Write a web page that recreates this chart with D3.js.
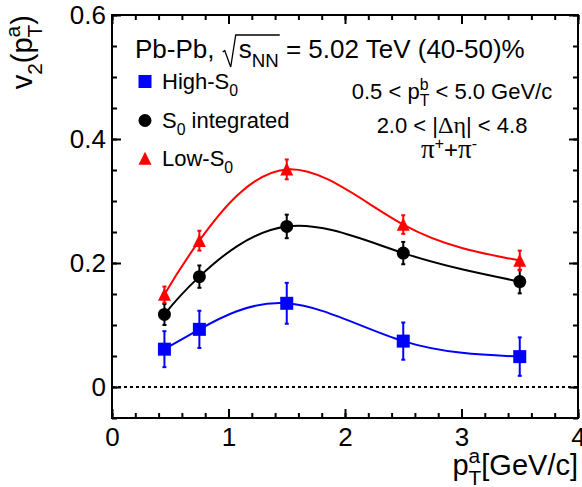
<!DOCTYPE html>
<html>
<head>
<meta charset="utf-8">
<script src="https://cdn.jsdelivr.net/npm/d3@7"></script>
<style>
	body { margin: 0; background: #fff; }
	text { font-family: "Liberation Sans", Arial, sans-serif; white-space: pre; }
	.serif { font-family: "Liberation Serif", "Times New Roman", serif; }
</style>
</head>
<body>
<svg id="chart" width="582" height="487"></svg>
<script>

// values
var pt = [0.45, 0.75, 1.5, 2.5, 3.5];
var highS0 = [0.061, 0.093, 0.135, 0.074, 0.049];
var highS0Err = [0.029, 0.030, 0.033, 0.030, 0.031];
var intS0 = [0.117, 0.178, 0.259, 0.216, 0.170];
var intS0Err = [0.017, 0.018, 0.019, 0.018, 0.019];
var lowS0 = [0.149, 0.236, 0.351, 0.262, 0.204];
var lowS0Err = [0.013, 0.016, 0.016, 0.015, 0.016];

var xTicks = [0, 1, 2, 3, 4];
var yTicks = [0, 0.2, 0.4, 0.6];

var series = [
	{name: "High", vals: highS0, errs: highS0Err, color: "#0000ff", marker: "square"},
	{name: "Int", vals: intS0, errs: intS0Err, color: "#000000", marker: "circle"},
	{name: "Low", vals: lowS0, errs: lowS0Err, color: "#ff0000", marker: "triangle"}
];

var fLeft = 112, fRight = 578, fTop = 15, fBottom = 418;

var svg = d3.select("#chart");

var x = d3.scaleLinear().domain([0, 4]).range([fLeft, fRight]);
var y = d3.scaleLinear().domain([-0.05, 0.6]).range([fBottom, fTop]);

// rich text: parts laid out one after the other, sub/sup as smaller text
function rich(parent, parts, opt) {
	var size = opt.size, g = parent.append("g");
	var cx = 0, xs = [];
	function piece(t, kind, at, cls, fsz) {
		var base = fsz || size;
		var fs = kind ? size * 0.72 : base;
		var dy = kind == "sub" ? size * 0.34 : (kind == "sup" ? -size * 0.42 : 0);
		var el = g.append("text")
			.attr("x", at)
			.attr("y", dy)
			.attr("font-size", fs)
			.attr("class", cls || null)
			.text(t);
		return el.node().getComputedTextLength();
	}
	parts.forEach(function (p) {
		xs.push(cx);
		if (p.gap) {
			cx += p.gap;
		}
		else if (p.stack) {
			var w1 = piece(p.sup, "sup", cx);
			var w2 = piece(p.sub, "sub", cx);
			cx += Math.max(w1, w2);
		}
		else {
			cx += piece(p.t, p.kind, cx, p.cls, p.size);
		}
	});
	var x0 = opt.x;
	if (opt.anchor == "middle") x0 = opt.x - cx / 2;
	if (opt.anchor == "end") x0 = opt.x - cx;
	g.attr("transform", "translate(" + x0 + "," + opt.y + ")");
	return {g: g, xs: xs, width: cx, x0: x0};
}

// zero line
svg.append("line")
	.attr("x1", fLeft).attr("x2", fRight)
	.attr("y1", y(0)).attr("y2", y(0))
	.attr("stroke", "#000")
	.attr("stroke-width", 2)
	.attr("stroke-dasharray", "3,3");

// axes, ticks inward on all four sides
var xMinor = d3.range(0, 4.001, 0.2);
var yMinor = d3.range(-0.05, 0.601, 0.05);

function addAxis(axis, tr) {
	var g = svg.append("g").attr("transform", tr).call(axis);
	g.select(".domain").remove();
	g.selectAll("line").attr("stroke-width", 2);
	g.selectAll("text").attr("font-size", 26).attr("fill", "#000");
	return g;
}

addAxis(d3.axisBottom(x).tickValues(xMinor).tickSize(-5).tickFormat(""), "translate(0," + fBottom + ")");
addAxis(d3.axisBottom(x).tickValues(xTicks).tickSize(-9).tickPadding(10).tickFormat(d3.format("d")), "translate(0," + fBottom + ")");
addAxis(d3.axisTop(x).tickValues(xMinor).tickSize(-5).tickFormat(""), "translate(0," + fTop + ")");
addAxis(d3.axisTop(x).tickValues(xTicks).tickSize(-9).tickFormat(""), "translate(0," + fTop + ")");

addAxis(d3.axisLeft(y).tickValues(yMinor).tickSize(-5).tickFormat(""), "translate(" + fLeft + ",0)");
addAxis(d3.axisLeft(y).tickValues(yTicks).tickSize(-9).tickPadding(6)
	.tickFormat(function (d) { return d == 0 ? "0" : d3.format(".1f")(d); }), "translate(" + fLeft + ",0)");
addAxis(d3.axisRight(y).tickValues(yMinor).tickSize(-5).tickFormat(""), "translate(" + fRight + ",0)");
addAxis(d3.axisRight(y).tickValues(yTicks).tickSize(-9).tickFormat(""), "translate(" + fRight + ",0)");

svg.append("rect")
	.attr("x", fLeft).attr("y", fTop)
	.attr("width", fRight - fLeft).attr("height", fBottom - fTop)
	.attr("fill", "none")
	.attr("stroke", "#000")
	.attr("stroke-width", 2);

// curves
var line = d3.line()
	.x(function (d) { return x(d[0]); })
	.y(function (d) { return y(d[1]); })
	.curve(d3.curveNatural);

function markerPath(kind, cx, cy) {
	var p = d3.path();
	if (kind == "square") {
		p.rect(cx - 6.5, cy - 6.5, 13, 13);
	}
	else if (kind == "circle") {
		p.arc(cx, cy, 6.5, 0, 2 * Math.PI);
	}
	else {
		p.moveTo(cx, cy - 6.8);
		p.lineTo(cx + 6.5, cy + 6.2);
		p.lineTo(cx - 6.5, cy + 6.2);
		p.closePath();
	}
	return p.toString();
}

series.forEach(function (s) {
	var pts = pt.map(function (v, i) { return [v, s.vals[i], s.errs[i]]; });
	var g = svg.append("g").attr("class", "series");

	g.append("path")
		.attr("d", line(pts))
		.attr("fill", "none")
		.attr("stroke", s.color)
		.attr("stroke-width", 2);

	var e = g.selectAll(".err").data(pts).enter().append("g").attr("class", "err");
	e.append("line")
		.attr("x1", function (d) { return x(d[0]); })
		.attr("x2", function (d) { return x(d[0]); })
		.attr("y1", function (d) { return y(d[1] - d[2]); })
		.attr("y2", function (d) { return y(d[1] + d[2]); })
		.attr("stroke", s.color)
		.attr("stroke-width", 2);
	[-1, 1].forEach(function (sg) {
		e.append("line")
			.attr("x1", function (d) { return x(d[0]) - 2; })
			.attr("x2", function (d) { return x(d[0]) + 2; })
			.attr("y1", function (d) { return y(d[1] + sg * d[2]); })
			.attr("y2", function (d) { return y(d[1] + sg * d[2]); })
			.attr("stroke", s.color)
			.attr("stroke-width", 2);
	});

	g.selectAll(".mk").data(pts).enter().append("path")
		.attr("class", "mk")
		.attr("d", function (d) { return markerPath(s.marker, x(d[0]), y(d[1])); })
		.attr("fill", s.color);
});

// axis titles
var yt = svg.append("g").attr("transform", "translate(32,15) rotate(-90)");
rich(yt, [{t: "v"}, {t: "2", kind: "sub"}, {t: "(p"}, {stack: true, sup: "a", sub: "T"}, {t: ")"}],
	{x: 0, y: 0, size: 29, anchor: "end"});

rich(svg, [{t: "p"}, {stack: true, sup: "a", sub: "T"}, {t: "[GeV/c]"}],
	{x: 578, y: 475, size: 29, anchor: "end"});

// header with square root
var hd = rich(svg, [{t: "Pb-Pb, "}, {gap: 17}, {t: "s"}, {t: "NN", kind: "sub"}, {t: " = 5.02 TeV (40-50)%"}],
	{x: 135, y: 58, size: 26, anchor: "start"});
var r0 = hd.x0 + hd.xs[1], r1 = hd.x0 + hd.xs[4] + 1;
svg.append("path")
	.attr("d", "M" + (r0 + 1) + ",52 L" + (r0 + 3) + ",50.5 L" + (r0 + 9) + ",67 L" + (r0 + 14) + ",35 L" + r1 + ",35")
	.attr("fill", "none")
	.attr("stroke", "#000")
	.attr("stroke-width", 1.3);

// legend
var legY = [89, 128, 166];
var legText = [
	[{t: "High-S"}, {t: "0", kind: "sub"}],
	[{t: "S"}, {t: "0", kind: "sub"}, {t: " integrated"}],
	[{t: "Low-S"}, {t: "0", kind: "sub"}]
];
series.forEach(function (s, i) {
	svg.append("path")
		.attr("d", markerPath(s.marker, 145, legY[i] - 7.5))
		.attr("fill", s.color);
	rich(svg, legText[i], {x: 162, y: legY[i], size: 22, anchor: "start"});
});

// cuts
rich(svg, [{t: "0.5 < p"}, {stack: true, sup: "b", sub: "T"}, {t: " < 5.0 GeV/c"}],
	{x: 452, y: 99, size: 22, anchor: "middle"});
rich(svg, [{t: "2.0 < |"}, {t: "\u0394\u03b7", cls: "serif", size: 24}, {t: "| < 4.8"}],
	{x: 452, y: 132.5, size: 22, anchor: "middle"});
rich(svg, [{t: "\u03c0", cls: "serif", size: 27}, {t: "+", kind: "sup"}, {t: "+", size: 24}, {t: "\u03c0", cls: "serif", size: 27}, {t: "-", kind: "sup"}],
	{x: 449, y: 158, size: 22, anchor: "middle"});

</script>
</body>
</html>
